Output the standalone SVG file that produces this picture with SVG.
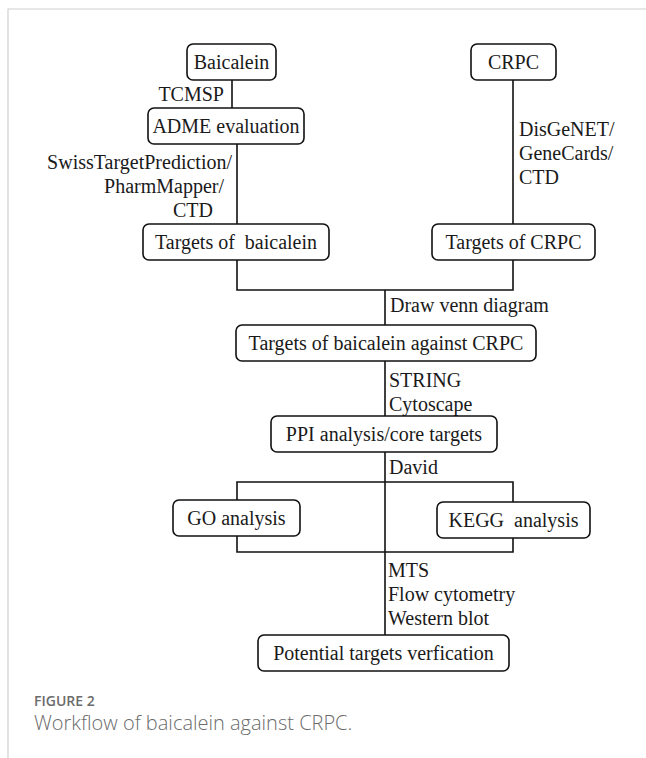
<svg xmlns="http://www.w3.org/2000/svg" width="646" height="758" viewBox="0 0 646 758">
<style>
.box{fill:#fff;stroke:#111;stroke-width:1.6}
.t{font-family:"Liberation Serif","Times New Roman",serif;font-size:20px;fill:#1a1a1a;white-space:pre}
.c{text-anchor:middle}
.ln{fill:none;stroke:#111;stroke-width:1.6}
.frame{fill:none;stroke:#d0d0d0;stroke-width:1.2}
</style>
<rect width="646" height="758" fill="#fff"/>
<path class="frame" d="M8,758 V9 H646"/>
<g id="connectors">
<path class="ln" d="M232,80 V108"/>
<path class="ln" d="M237,144 V224"/>
<path class="ln" d="M513,80 V224"/>
<path class="ln" d="M237,260 V290 H513 V260"/>
<path class="ln" d="M385,290 V325"/>
<path class="ln" d="M385,361 V416"/>
<path class="ln" d="M385,452 V635"/>
<path class="ln" d="M237,500 V482 H513 V502"/>
<path class="ln" d="M237,536 V552 H513 V538"/>
<text class="t" x="224" y="101" text-anchor="end">TCMSP</text>
<text class="t" x="232" y="169" text-anchor="end">SwissTargetPrediction/</text>
<text class="t" x="224" y="193" text-anchor="end">PharmMapper/</text>
<text class="t" x="213" y="217" text-anchor="end">CTD</text>
<text class="t" x="519" y="136">DisGeNET/</text>
<text class="t" x="519" y="160">GeneCards/</text>
<text class="t" x="519" y="184">CTD</text>
<text class="t" x="390" y="312">Draw venn diagram</text>
<text class="t" x="389" y="387">STRING</text>
<text class="t" x="389" y="411">Cytoscape</text>
<text class="t" x="389" y="474">David</text>
<text class="t" x="388" y="577">MTS</text>
<text class="t" x="388" y="601">Flow cytometry</text>
<text class="t" x="388" y="625">Western blot</text>
</g>
<g id="baicalein"><rect class="box" x="187" y="44" width="89" height="36" rx="6"/><text class="t c" x="231.5" y="69">Baicalein</text></g>
<g id="crpc"><rect class="box" x="471" y="44" width="85" height="36" rx="6"/><text class="t c" x="513.5" y="69">CRPC</text></g>
<g id="adme"><rect class="box" x="148" y="108" width="156" height="36" rx="6"/><text class="t c" x="226" y="133">ADME evaluation</text></g>
<g id="targets-baicalein"><rect class="box" x="143" y="224" width="186" height="36" rx="6"/><text class="t c" x="236" y="249">Targets of  baicalein</text></g>
<g id="targets-crpc"><rect class="box" x="432" y="224" width="163" height="36" rx="6"/><text class="t c" x="513.5" y="249">Targets of CRPC</text></g>
<g id="targets-against"><rect class="box" x="236" y="325" width="300" height="36" rx="6"/><text class="t c" x="386" y="350">Targets of baicalein against CRPC</text></g>
<g id="ppi"><rect class="box" x="271" y="416" width="226" height="36" rx="6"/><text class="t c" x="384" y="441">PPI analysis/core targets</text></g>
<g id="go"><rect class="box" x="173" y="500" width="127" height="36" rx="6"/><text class="t c" x="236.5" y="525">GO analysis</text></g>
<g id="kegg"><rect class="box" x="437" y="502" width="153" height="36" rx="6"/><text class="t c" x="513.5" y="527">KEGG  analysis</text></g>
<g id="verification"><rect class="box" x="258" y="635" width="251" height="36" rx="6"/><text class="t c" x="383.5" y="660">Potential targets verfication</text></g>
<g id="caption">
<text x="34" y="706" font-family="'Open Sans','Noto Sans',sans-serif" font-size="14" font-weight="600" fill="#6b6b6b">FIGURE 2</text>
<text x="34" y="730" font-family="'Open Sans','Noto Sans',sans-serif" font-size="20" font-weight="300" fill="#6b6b6b">Workflow of baicalein against CRPC.</text>
</g>
</svg>
